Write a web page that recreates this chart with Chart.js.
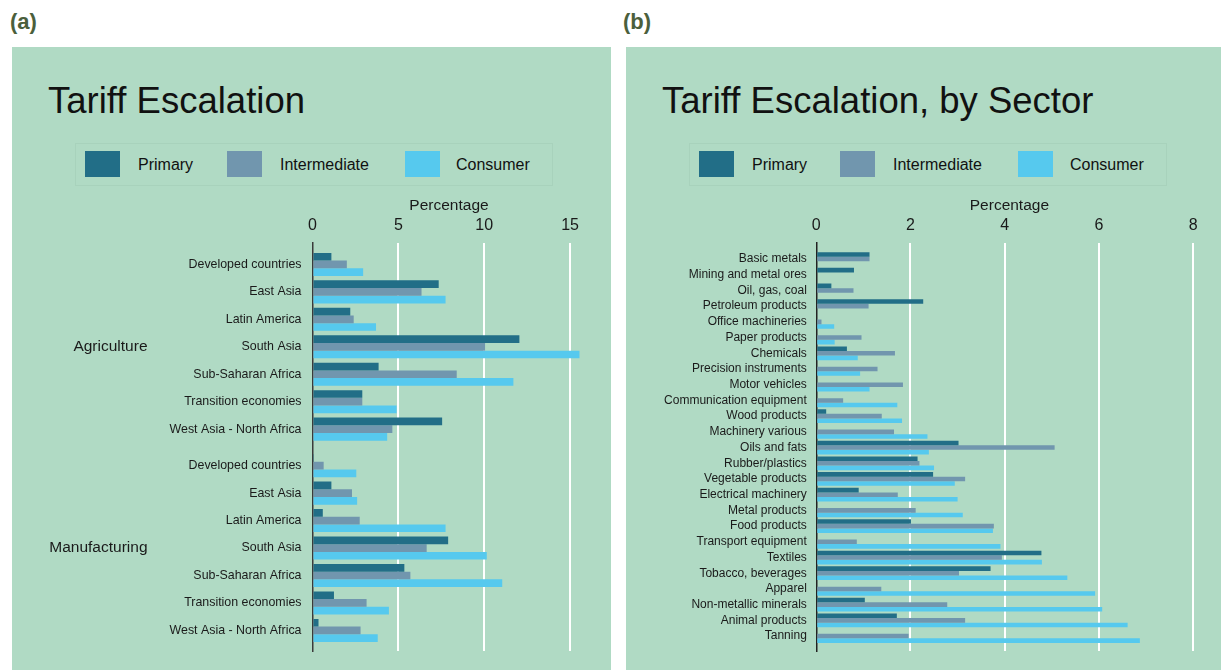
<!DOCTYPE html>
<html lang="en">
<head>
<meta charset="UTF-8">
<title>Tariff Escalation</title>
<script src="https://cdn.jsdelivr.net/npm/chart.js@4.4.1/dist/chart.umd.min.js"></script>
<style>
  body { margin:0; background:#fff; font-family:"Liberation Sans", Arial, sans-serif; width:1221px; height:670px; overflow:hidden; position:relative; }
  .tag { position:absolute; top:9px; font-size:22px; line-height:26px; font-weight:bold; color:#4b5f3c; }
  .panel { position:absolute; top:47px; height:623px; background:#b0dac4; }
  .title { position:absolute; left:36px; top:34px; font-size:36.5px; line-height:40px; color:#111; white-space:nowrap; }
  .legend { position:absolute; top:96px; left:63px; width:478px; height:43px; border:1px solid #a8d2bc; box-sizing:border-box; }
  .sw { position:absolute; top:104px; width:35px; height:26px; }
  .lt { position:absolute; top:108px; font-size:16px; line-height:20px; color:#111; white-space:nowrap; }
  canvas { position:absolute; left:0; top:143px; }
</style>
</head>
<body>

<div class="tag" style="left:10px">(a)</div>
<div class="tag" style="left:623px">(b)</div>

<div class="panel" id="pa" style="left:12px; width:599px">
  <div class="title">Tariff Escalation</div>
  <div class="legend"></div>
  <div class="sw" style="left:73px; background:#226e87"></div><div class="lt" style="left:126px">Primary</div>
  <div class="sw" style="left:215px; background:#7196ae"></div><div class="lt" style="left:268px">Intermediate</div>
  <div class="sw" style="left:393px; background:#56c9ee"></div><div class="lt" style="left:444px">Consumer</div>
  <canvas id="chartA" width="599" height="480"></canvas>
</div>

<div class="panel" id="pb" style="left:626px; width:595px">
  <div class="title">Tariff Escalation, by Sector</div>
  <div class="legend"></div>
  <div class="sw" style="left:73px; background:#226e87"></div><div class="lt" style="left:126px">Primary</div>
  <div class="sw" style="left:214px; background:#7196ae"></div><div class="lt" style="left:267px">Intermediate</div>
  <div class="sw" style="left:392px; background:#56c9ee"></div><div class="lt" style="left:444px">Consumer</div>
  <canvas id="chartB" width="595" height="480"></canvas>
</div>

<script>
  // panel (a): regions inside two groups
  const groups = ['Agriculture', 'Manufacturing'];
  const regions = ['Developed countries', 'East Asia', 'Latin America', 'South Asia',
                   'Sub-Saharan Africa', 'Transition economies', 'West Asia - North Africa'];
  const agriPrimary      = [1.1, 7.35, 2.2, 12.05, 3.85, 2.9, 7.55];
  const agriIntermediate = [2.0, 6.35, 2.4, 10.05, 8.4, 2.9, 4.65];
  const agriConsumer     = [2.95, 7.75, 3.7, 15.55, 11.7, 4.9, 4.35];
  const manuPrimary      = [0.08, 1.1, 0.6, 7.9, 5.35, 1.25, 0.35];
  const manuIntermediate = [0.65, 2.3, 2.75, 6.65, 5.7, 3.15, 2.8];
  const manuConsumer     = [2.55, 2.6, 7.75, 10.15, 11.05, 4.45, 3.8];
  const ticksA = [0, 5, 10, 15];

  // panel (b): sectors
  const sectors = ['Basic metals', 'Mining and metal ores', 'Oil, gas, coal', 'Petroleum products',
                   'Office machineries', 'Paper products', 'Chemicals', 'Precision instruments',
                   'Motor vehicles', 'Communication equipment', 'Wood products', 'Machinery various',
                   'Oils and fats', 'Rubber/plastics', 'Vegetable products', 'Electrical machinery',
                   'Metal products', 'Food products', 'Transport equipment', 'Textiles',
                   'Tobacco, beverages', 'Apparel', 'Non-metallic minerals', 'Animal products', 'Tanning'];
  const sectorPrimary      = [1.13, 0.80, 0.32, 2.27, null, null, 0.65, null, null, null, 0.21, null,
                              3.02, 2.15, 2.48, 0.90, null, 2.01, null, 4.78, 3.70, null, 1.03, 1.71, null];
  const sectorIntermediate = [1.13, null, 0.79, 1.11, 0.11, 0.96, 1.67, 1.30, 1.84, 0.57, 1.39, 1.65,
                              5.06, 2.19, 3.16, 1.73, 2.11, 3.77, 0.86, 3.94, 3.03, 1.38, 2.78, 3.16, 1.96];
  const sectorConsumer     = [null, null, null, null, 0.38, 0.39, 0.88, 0.93, 1.13, 1.72, 1.82, 2.36,
                              2.39, 2.50, 2.94, 3.00, 3.11, 3.75, 3.91, 4.79, 5.33, 5.92, 6.07, 6.61, 6.87];
  const ticksB = [0, 2, 4, 6, 8];

  const cores = { primary: '#226e87', intermediate: '#7196ae', consumer: '#56c9ee' };
  Chart.defaults.font.family = '"Liberation Sans", Arial, sans-serif';
  Chart.defaults.color = '#1a1a1a';

  // row positions on the y scale (gap between the two groups in panel a)
  const rowsA = regions.map((r, i) => i).concat(regions.map((r, i) => i + 7.33));
  const groupRowsA = [3, 10.33];
  const rowsB = sectors.map((s, i) => i);

  function pontos(valores, linhas) {
    return valores.map((v, i) => ({ x: v, y: linhas[i] }));
  }

  function dataset(label, valores, linhas, cor, pct) {
    return {
      label: label,
      data: pontos(valores, linhas),
      backgroundColor: cor,
      borderWidth: 0,
      yAxisID: 'y',
      categoryPercentage: pct,
      barPercentage: 1
    };
  }

  function eixoX(max, ticks) {
    return {
      type: 'linear',
      position: 'top',
      min: 0,
      max: max,
      afterBuildTicks: s => { s.ticks = ticks.map(v => ({ value: v })); },
      afterFit: s => { s.height = 47; },
      border: { display: false },
      grid: {
        drawTicks: false,
        lineWidth: 2,
        color: ctx => (ctx.tick && ctx.tick.value === 0) ? 'rgba(0,0,0,0)' : '#ffffff'
      },
      ticks: { font: { size: 16 }, padding: 8, color: '#1a1a1a' },
      title: { display: true, text: 'Percentage', font: { size: 15.5 }, padding: { top: 0, bottom: 0 }, color: '#1a1a1a' }
    };
  }

  // y axis on linear scale so the rows can sit where they are in the picture
  function eixoY(min, max, linhas, nomes, largura, pad, tam, extra) {
    return Object.assign({
      type: 'linear',
      position: 'left',
      reverse: true,
      offset: false,
      bounds: 'data',
      min: min,
      max: max,
      afterBuildTicks: s => { s.ticks = linhas.map(v => ({ value: v })); },
      afterFit: s => { s.width = largura; },
      grid: { display: false, drawTicks: false },
      border: { display: false },
      ticks: {
        autoSkip: false,
        padding: pad,
        font: { size: tam },
        color: '#1a1a1a',
        callback: (v, i) => nomes[i % nomes.length]
      }
    }, extra);
  }

  new Chart(document.getElementById('chartA'), {
    type: 'bar',
    data: {
      datasets: [
        dataset('Primary', agriPrimary.concat(manuPrimary), rowsA, cores.primary, 0.84),
        dataset('Intermediate', agriIntermediate.concat(manuIntermediate), rowsA, cores.intermediate, 0.84),
        dataset('Consumer', agriConsumer.concat(manuConsumer), rowsA, cores.consumer, 0.84)
      ]
    },
    options: {
      indexAxis: 'y',
      responsive: false,
      animation: false,
      layout: { padding: { top: 6, right: 25.5, bottom: 19, left: 0 } },
      plugins: { legend: { display: false }, tooltip: { enabled: false } },
      scales: {
        x: eixoX(15.9, ticksA),
        y: eixoY(-0.78, 14.08, rowsA, regions, 165, 11, 12.4,
                 { weight: 0, border: { display: true, color: '#3a3a3a', width: 1.5 } }),
        yGroup: eixoY(-0.78, 14.08, groupRowsA, groups, 135.5, 0, 15.5, { weight: 1 })
      }
    }
  });

  new Chart(document.getElementById('chartB'), {
    type: 'bar',
    data: {
      datasets: [
        dataset('Primary', sectorPrimary, rowsB, cores.primary, 0.874),
        dataset('Intermediate', sectorIntermediate, rowsB, cores.intermediate, 0.874),
        dataset('Consumer', sectorConsumer, rowsB, cores.consumer, 0.874)
      ]
    },
    options: {
      indexAxis: 'y',
      responsive: false,
      animation: false,
      layout: { padding: { top: 6, right: 18.5, bottom: 19, left: 0 } },
      plugins: { legend: { display: false }, tooltip: { enabled: false } },
      scales: {
        x: eixoX(8.2, ticksB),
        y: eixoY(-1.02, 24.95, rowsB, sectors, 190.3, 9.5, 12,
                 { border: { display: true, color: '#222', width: 1.5 } })
      }
    }
  });
</script>
</body>
</html>
